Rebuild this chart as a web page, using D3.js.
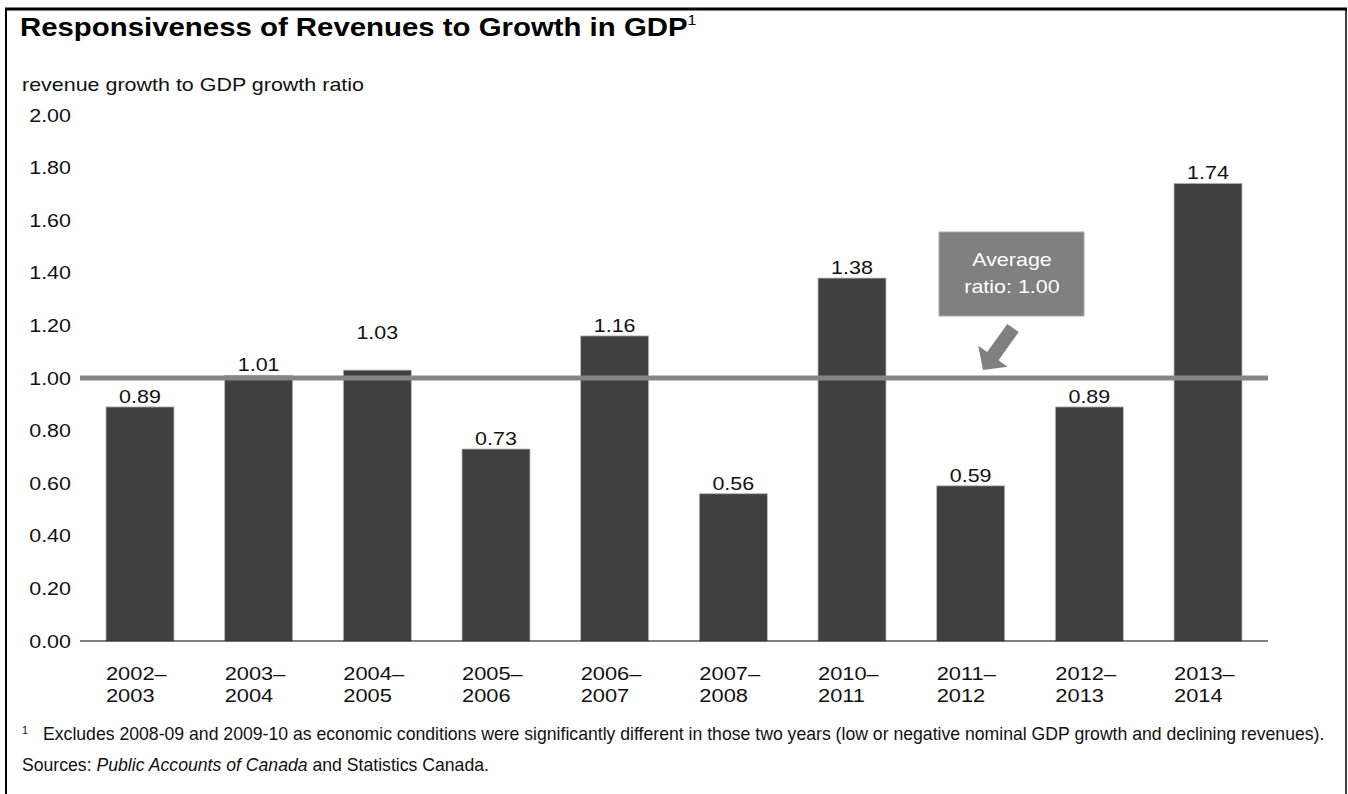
<!DOCTYPE html>
<html>
<head>
<meta charset="utf-8">
<script src="https://cdn.jsdelivr.net/npm/d3@7"></script>
<style>
  html, body { margin: 0; padding: 0; background: #fff; }
  svg { display: block; }
  text { font-family: "Liberation Sans", Arial, Helvetica, sans-serif; }
</style>
</head>
<body>
<script>
// Revenue growth to GDP growth ratio, by fiscal year
const categories = ["2002–2003", "2003–2004", "2004–2005", "2005–2006", "2006–2007",
                    "2007–2008", "2010–2011", "2011–2012", "2012–2013", "2013–2014"];
const ratios = [0.89, 1.01, 1.03, 0.73, 1.16, 0.56, 1.38, 0.59, 0.89, 1.74];
const averageRatio = 1.00;
const yTicks = [0, 0.2, 0.4, 0.6, 0.8, 1.0, 1.2, 1.4, 1.6, 1.8, 2.0];

const W = 1348, H = 794;
const SX = 1.13;   // horizontal widening of the sans-serif lettering
const svg = d3.select("body").append("svg").attr("width", W).attr("height", H);

// widen a text element horizontally about its own anchor point
function widen(sel, sx) {
  sel.each(function () {
    const t = d3.select(this);
    const x0 = +t.attr("x") || 0, y0 = +t.attr("y") || 0;
    t.attr("transform", `translate(${x0},${y0}) scale(${sx},1) translate(${-x0},${-y0})`);
  });
}

// frame (open at the bottom)
svg.append("line").attr("x1", 5).attr("x2", 1347).attr("y1", 9).attr("y2", 9)
  .attr("stroke", "#000").attr("stroke-width", 3);
svg.append("line").attr("x1", 6).attr("x2", 6).attr("y1", 8).attr("y2", H)
  .attr("stroke", "#000").attr("stroke-width", 2);
svg.append("line").attr("x1", 1346).attr("x2", 1346).attr("y1", 8).attr("y2", H)
  .attr("stroke", "#000").attr("stroke-width", 1.5);

// title
const title = svg.append("text").attr("x", 20).attr("y", 36)
  .attr("font-size", 26).attr("font-weight", "bold").attr("fill", "#000");
title.append("tspan").text("Responsiveness of Revenues to Growth in GDP");
title.append("tspan").text("1").attr("font-size", 14).attr("dy", -11).attr("font-weight", "normal");
widen(title, SX);

const yTitle = svg.append("text").attr("x", 22).attr("y", 91).attr("font-size", 19).attr("fill", "#111")
  .text("revenue growth to GDP growth ratio");
widen(yTitle, SX);

// scales
const x = d3.scaleBand().domain(categories).range([80, 1268])
  .paddingInner(0.427).paddingOuter(0.219);
const y = d3.scaleLinear().domain([0, 2]).range([641, 115]);

// y axis labels only
const yAxis = svg.append("g").attr("transform", "translate(71,0)")
  .call(d3.axisLeft(y).tickValues(yTicks).tickFormat(d3.format(".2f")).tickSize(0).tickPadding(0));
yAxis.select(".domain").remove();
yAxis.selectAll("text").attr("font-size", 19).attr("fill", "#111")
  .attr("font-family", "'Liberation Sans', Arial, sans-serif")
  .attr("transform", `scale(${SX},1)`);

// bars
svg.append("g").selectAll("rect").data(ratios).join("rect")
  .attr("x", (d, i) => x(categories[i]))
  .attr("width", x.bandwidth())
  .attr("y", d => y(d))
  .attr("height", d => y(0) - y(d))
  .attr("fill", "#404040")
  .attr("stroke", "#b8b8b8").attr("stroke-width", 0.8);

// value labels; the one sitting just above the average line is raised clear of it
const raised = { "2004–2005": 27 };
const vals = svg.append("g").selectAll("text").data(ratios).join("text")
  .attr("x", (d, i) => x(categories[i]) + x.bandwidth() / 2)
  .attr("y", (d, i) => y(d) - 4 - (raised[categories[i]] || 0))
  .attr("text-anchor", "middle").attr("font-size", 19).attr("fill", "#111")
  .text(d => d3.format(".2f")(d));
widen(vals, SX);

// baseline
svg.append("line").attr("x1", 80).attr("x2", 1268).attr("y1", y(0)).attr("y2", y(0))
  .attr("stroke", "#000").attr("stroke-width", 1);

// average line
svg.append("line").attr("x1", 80).attr("x2", 1268)
  .attr("y1", y(averageRatio)).attr("y2", y(averageRatio))
  .attr("stroke", "#858585").attr("stroke-width", 5);

// category labels (two lines, left aligned with the bar)
const cat = svg.append("g").selectAll("text").data(categories).join("text")
  .attr("x", d => x(d)).attr("y", 680).attr("font-size", 19).attr("fill", "#111");
cat.append("tspan").attr("x", d => x(d)).text(d => d.split("–")[0] + "–");
cat.append("tspan").attr("x", d => x(d)).attr("dy", 22).text(d => d.split("–")[1]);
widen(cat, 1.15);

// average callout box
svg.append("rect").attr("x", 939).attr("y", 232).attr("width", 145).attr("height", 84)
  .attr("fill", "#808080").attr("stroke", "#aaa").attr("stroke-width", 1);
const boxText = svg.append("g");
boxText.append("text").attr("x", 1012).attr("y", 266).text("Average");
boxText.append("text").attr("x", 1012).attr("y", 293).text("ratio: " + d3.format(".2f")(averageRatio));
boxText.selectAll("text").attr("text-anchor", "middle").attr("font-size", 19).attr("fill", "#fff");
widen(boxText.selectAll("text"), SX);

// arrow pointing down-left toward the average line
const tail = [1013, 328];
const tip = [983, y(averageRatio) - 8];
const ang = Math.atan2(tip[1] - tail[1], tip[0] - tail[0]);
const len = Math.hypot(tip[0] - tail[0], tip[1] - tail[1]);
const headLen = 17, headHalf = 18, shaftHalf = 7;
svg.append("g")
  .attr("transform", `translate(${tip[0]},${tip[1]}) rotate(${ang * 180 / Math.PI})`)
  .append("path")
  .attr("d", `M0,0 L${-headLen},${-headHalf} L${-headLen},${-shaftHalf} L${-len},${-shaftHalf}
              L${-len},${shaftHalf} L${-headLen},${shaftHalf} L${-headLen},${headHalf} Z`)
  .attr("fill", "#808080");

// notes, set in a condensed width
const noteStart = 43, noteEnd = 1325;
const notes = svg.append("g");
const note1 = notes.append("text").attr("x", 22).attr("y", 740).attr("fill", "#111");
note1.append("tspan").attr("x", 22).attr("dy", -6).attr("font-size", 11).text("1");
const note1Body = note1.append("tspan").attr("x", noteStart).attr("dy", 6).attr("font-size", 18)
  .text("Excludes 2008-09 and 2009-10 as economic conditions were significantly different in those two years (low or negative nominal GDP growth and declining revenues).");

const note2 = notes.append("text").attr("x", 22).attr("y", 771)
  .attr("font-size", 18).attr("fill", "#111");
note2.append("tspan").text("Sources: ");
note2.append("tspan").attr("font-style", "italic").text("Public Accounts of Canada");
note2.append("tspan").text(" and Statistics Canada.");

const bodyWidth = note1Body.node().getComputedTextLength();
const k = (noteEnd - noteStart) / bodyWidth;
notes.selectAll("text").each(function () {
  const t = d3.select(this);
  t.attr("transform", `translate(22,0) scale(${k},1) translate(-22,0)`);
});
note1Body.attr("x", 22 + (noteStart - 22) / k);
</script>
</body>
</html>
